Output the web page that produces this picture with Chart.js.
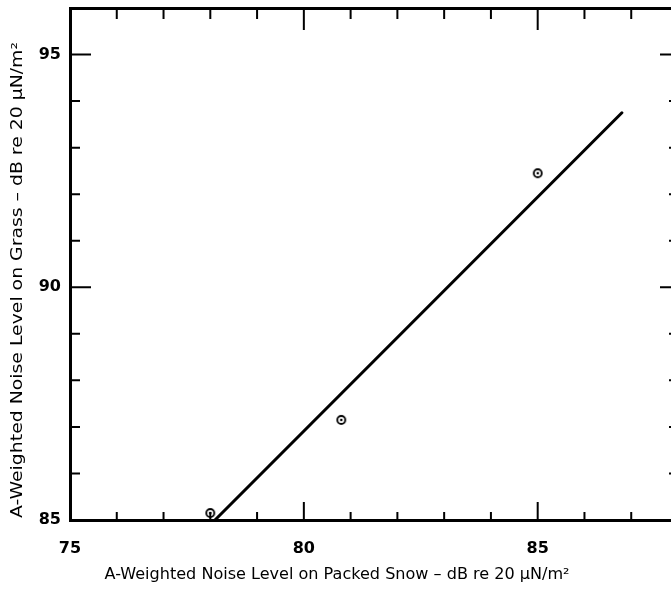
<!DOCTYPE html>
<html><head><meta charset="utf-8">
<script src="https://cdn.jsdelivr.net/npm/chart.js@4/dist/chart.umd.min.js"></script>
<style>html,body{margin:0;padding:0;overflow:hidden;background:#fff}#wrap{width:690px;height:589px}</style>
</head><body><div id="wrap"><canvas id="c" width="690" height="589"></canvas></div>
<script>
// ---- data ----
const snowLevels  = [78.0, 80.8, 85.0];      // x: packed snow, dB
const grassLevels = [85.15, 87.15, 92.45];   // y: grass, dB
const fitSnow  = [78.1, 86.8];
const fitGrass = [85.0, 93.75];
const xTickLabels = [75, 80, 85];
const yTickLabels = [85, 90, 95];
const xTickMarks = [76, 77, 78, 79, 80, 81, 82, 83, 84, 85, 86, 87];
const yTickMarks = [86, 87, 88, 89, 90, 91, 92, 93, 94, 95];
const xTitle = "A-Weighted Noise Level on Packed Snow – dB re 20 μN/m²";
const yTitle = "A-Weighted Noise Level on Grass – dB re 20 μN/m²";

// point marker: circle with centre dot
const mk = document.createElement('canvas');
mk.width = 12; mk.height = 12;
(function(){const g = mk.getContext('2d');
 g.strokeStyle = '#000'; g.lineWidth = 1.8;
 g.beginPath(); g.arc(6, 6, 4, 0, Math.PI*2); g.stroke();
 g.fillStyle = '#000'; g.beginPath(); g.arc(6, 6, 1.3, 0, Math.PI*2); g.fill();})();

const FONT = "'DejaVu Sans', sans-serif";

function stretchedText(ctx, txt, cx, cy, targetW) {
  const w = ctx.measureText(txt).width;
  ctx.save();
  ctx.translate(cx, cy);
  ctx.scale(targetW / w, 1);
  ctx.fillText(txt, 0, 0);
  ctx.restore();
}

const framePlugin = {
  id: 'frame',
  afterDraw(chart) {
    const ctx = chart.ctx, a = chart.chartArea;
    const xs = chart.scales.x, ys = chart.scales.y;
    ctx.save();
    ctx.strokeStyle = '#000';
    ctx.lineWidth = 2;
    xTickMarks.forEach(v => {
      const p = xs.getPixelForValue(v);
      const major = xTickLabels.includes(v);
      ctx.beginPath();
      ctx.moveTo(p, a.bottom); ctx.lineTo(p, a.bottom - (major ? 18 : 8));
      ctx.moveTo(p, a.top); ctx.lineTo(p, a.top + (major ? 22 : 11));
      ctx.stroke();
    });
    yTickMarks.forEach(v => {
      const p = ys.getPixelForValue(v);
      const major = yTickLabels.includes(v);
      ctx.beginPath();
      ctx.moveTo(a.left, p); ctx.lineTo(a.left + (major ? 21 : 10), p);
      ctx.moveTo(a.right, p); ctx.lineTo(a.right - (major ? 18 : 9), p);
      ctx.stroke();
    });
    ctx.fillStyle = '#000';
    ctx.font = "16px " + FONT;
    ctx.textAlign = 'center'; ctx.textBaseline = 'middle';
    stretchedText(ctx, xTitle, 337, 575, 465);
    ctx.translate(18, 280); ctx.rotate(-Math.PI/2);
    stretchedText(ctx, yTitle, 0, 0, 476);
    ctx.restore();
  }
};

const tickFont = {family: FONT, size: 16, weight: 'bold'};
const zeroPad = s => { s.paddingTop = 0; s.paddingBottom = 0; s.paddingLeft = 0; s.paddingRight = 0; };

new Chart(document.getElementById('c'), {
  type: 'scatter',
  data: {
    datasets: [
      { data: snowLevels.map((x, i) => ({x, y: grassLevels[i]})),
        pointStyle: mk, pointRadius: 6, showLine: false },
      { data: fitSnow.map((x, i) => ({x, y: fitGrass[i]})),
        showLine: true, borderColor: '#000', borderWidth: 3, pointRadius: 0, borderCapStyle: 'round' }
    ]
  },
  options: {
    responsive: false, animation: false, devicePixelRatio: 1,
    plugins: { legend: {display: false}, tooltip: {enabled: false} },
    layout: { padding: 0 },
    scales: {
      x: { type: 'linear', position: 'bottom', min: 75, max: 88,
           grid: {display: false}, border: {display: true, color: '#000', width: 3},
           ticks: { stepSize: 1, autoSkip: false, maxRotation: 0, padding: 11, color: '#000', font: tickFont,
                    callback: v => xTickLabels.includes(v) ? String(v) : '' },
           afterFit: s => { s.height = 69; zeroPad(s); } },
      y: { type: 'linear', position: 'left', min: 85, max: 96,
           grid: {display: false}, border: {display: true, color: '#000', width: 3},
           ticks: { stepSize: 1, autoSkip: false, padding: 1, color: '#000', font: tickFont,
                    callback: v => yTickLabels.includes(v) ? String(v) : '' },
           afterFit: s => { s.width = 70; zeroPad(s); } },
      x2: { type: 'linear', axis: 'x', position: 'top', min: 75, max: 88,
            grid: {display: false}, border: {display: true, color: '#000', width: 3},
            ticks: {display: false}, afterFit: s => { s.height = 8; zeroPad(s); } },
      y2: { type: 'linear', axis: 'y', position: 'right', min: 85, max: 96,
            grid: {display: false}, border: {display: true, color: '#000', width: 3},
            ticks: {display: false}, afterFit: s => { s.width = 12; zeroPad(s); } }
    }
  },
  plugins: [framePlugin]
});
</script></body></html>
